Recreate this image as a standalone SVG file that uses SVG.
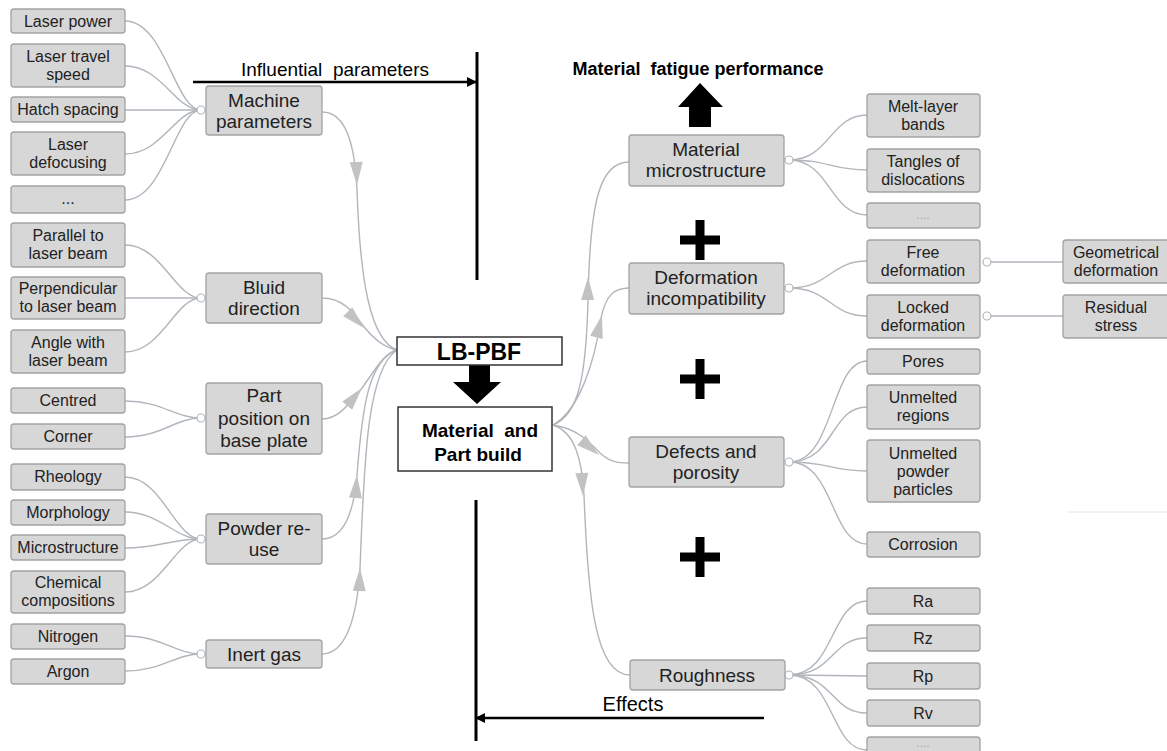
<svg xmlns="http://www.w3.org/2000/svg" width="1167" height="751" viewBox="0 0 1167 751">
<style>
.b{fill:#d7d7d7;stroke:#a3a3a3;stroke-width:1.3}
.t{font-family:"Liberation Sans",Arial,sans-serif;font-size:16px;fill:#222;text-anchor:middle}
.p{font-family:"Liberation Sans",Arial,sans-serif;font-size:19px;fill:#222;text-anchor:middle}
.d{font-family:"Liberation Sans",Arial,sans-serif;font-size:12px;fill:#aaa;text-anchor:middle}
.c{fill:none;stroke:#b0b6bc;stroke-width:1.4}
.o{fill:#fff;stroke:#b0b6bc;stroke-width:1.2}
.k{font-family:"Liberation Sans",Arial,sans-serif;fill:#000}
</style>
<defs>
<path id="ah" d="M0,0 L-23,-6.5 L-23,6.5 Z" fill="#c2c2c2"/>
<marker id="bh" markerWidth="10" markerHeight="10" refX="9" refY="5" orient="auto" markerUnits="userSpaceOnUse"><path d="M0,0 L10,5 L0,10 Z" fill="#000"/></marker>
</defs>
<rect width="1167" height="751" fill="#fff"/>
<line x1="1067" y1="512" x2="1167" y2="512" stroke="#e6e6e6" stroke-width="1"/>

<g id="connectors">
<path class="c" d="M125,21 C165,21 175,110 201,110"/>
<path class="c" d="M125,66 C162,66 175,110 201,110"/>
<path class="c" d="M125,110 C160,110 170,110 201,110"/>
<path class="c" d="M125,154 C162,154 175,110 201,110"/>
<path class="c" d="M125,200 C165,200 175,110 201,110"/>
<path class="c" d="M125,245 C162,245 175,298 201,298"/>
<path class="c" d="M125,298 C160,298 170,298 201,298"/>
<path class="c" d="M125,352 C162,352 175,298 201,298"/>
<path class="c" d="M125,401 C162,401 175,418 201,418"/>
<path class="c" d="M125,437 C162,437 175,418 201,418"/>
<path class="c" d="M125,477 C162,477 175,539 201,539"/>
<path class="c" d="M125,512 C160,512 175,539 201,539"/>
<path class="c" d="M125,548 C160,548 170,539 201,539"/>
<path class="c" d="M125,592 C162,592 175,539 201,539"/>
<path class="c" d="M125,636 C162,636 175,654 201,654"/>
<path class="c" d="M125,671 C162,671 175,654 201,654"/>
<path class="c" d="M322,112 C348,112 355,150 357,190 C360,280 370,340 397,350"/>
<path class="c" d="M322,298 C345,298 355,315 365,328 C375,340 385,348 397,350"/>
<path class="c" d="M322,419 C340,419 352,400 362,388 C375,370 385,352 397,350"/>
<path class="c" d="M322,539 C345,539 354,510 357,475 C362,410 368,360 397,350"/>
<path class="c" d="M322,654 C345,654 357,620 360,568 C364,470 366,370 397,350"/>
<path class="c" d="M553,425 C578,415 586,380 588,300 C590,200 600,162 629,162"/>
<path class="c" d="M553,425 C580,410 595,360 601,318 C606,295 614,288 629,288"/>
<path class="c" d="M553,425 C575,428 588,440 600,453 C610,462 618,463 629,463"/>
<path class="c" d="M553,425 C575,432 582,460 584,495 C588,600 595,675 630,675"/>
<path class="c" d="M789,160 C830,160 830,115 867,115"/>
<path class="c" d="M789,160 C830,160 830,170 867,170"/>
<path class="c" d="M789,160 C830,160 830,215 867,215"/>
<path class="c" d="M789,288 C830,288 830,261 867,261"/>
<path class="c" d="M789,288 C830,288 830,316 867,316"/>
<path class="c" d="M789,462 C835,462 830,361 867,361"/>
<path class="c" d="M789,462 C835,462 830,407 867,407"/>
<path class="c" d="M789,462 C830,462 830,471 867,471"/>
<path class="c" d="M789,462 C835,462 830,544 867,544"/>
<path class="c" d="M789,675 C835,675 830,601 867,601"/>
<path class="c" d="M789,675 C835,675 830,638 867,638"/>
<path class="c" d="M789,675 C830,675 830,676 867,676"/>
<path class="c" d="M789,675 C835,675 830,713 867,713"/>
<path class="c" d="M789,675 C835,675 830,750 867,750"/>
<path class="c" d="M987,262 L1063,262"/>
<path class="c" d="M987,316 L1063,316"/>
<use href="#ah" transform="translate(357,185) rotate(88)"/>
<use href="#ah" transform="translate(364,328) rotate(45)"/>
<use href="#ah" transform="translate(362,388) rotate(-50)"/>
<use href="#ah" transform="translate(357,475) rotate(-86)"/>
<use href="#ah" transform="translate(360,568) rotate(-88)"/>
<use href="#ah" transform="translate(588,277) rotate(-89)"/>
<use href="#ah" transform="translate(602,315) rotate(-76)"/>
<use href="#ah" transform="translate(599,455) rotate(40)"/>
<use href="#ah" transform="translate(583,496) rotate(87)"/>
<circle class="o" cx="201" cy="110" r="4"/>
<circle class="o" cx="201" cy="298" r="4"/>
<circle class="o" cx="201" cy="418" r="4"/>
<circle class="o" cx="201" cy="539" r="4"/>
<circle class="o" cx="201" cy="654" r="4"/>
<circle class="o" cx="789" cy="160" r="4"/>
<circle class="o" cx="789" cy="288" r="4"/>
<circle class="o" cx="789" cy="462" r="4"/>
<circle class="o" cx="789" cy="675" r="4"/>
<circle class="o" cx="987" cy="262" r="4"/>
<circle class="o" cx="987" cy="316" r="4"/>
</g>

<g id="axes">
<line x1="193" y1="82" x2="476" y2="82" stroke="#000" stroke-width="2.5" marker-end="url(#bh)"/>
<line x1="477" y1="52" x2="477" y2="280" stroke="#000" stroke-width="3"/>
<text class="k" x="335" y="76" font-size="19" text-anchor="middle">Influential&#160; parameters</text>
<line x1="764" y1="718" x2="476" y2="718" stroke="#000" stroke-width="2.5" marker-end="url(#bh)"/>
<line x1="476" y1="500" x2="476" y2="741" stroke="#000" stroke-width="3"/>
<text class="k" x="633" y="711" font-size="20" text-anchor="middle">Effects</text>
<text class="k" x="698" y="75" font-size="18" font-weight="bold" text-anchor="middle">Material&#160; fatigue performance</text>
<polygon points="700,83 723,107 711,107 711,127 689,127 689,107 678,107" fill="#000"/>
<polygon points="469,365 490,365 490,382 501,382 477,404 453,382 469,382" fill="#000"/>
<path d="M680,240 H720 M700,220 V260" stroke="#000" stroke-width="9"/>
<path d="M680,379 H720 M700,359 V399" stroke="#000" stroke-width="9"/>
<path d="M680,557 H720 M700,537 V577" stroke="#000" stroke-width="9"/>
</g>

<g id="n-lbpbf"><rect x="397" y="337" width="165" height="28" fill="#fff" stroke="#333" stroke-width="1.5"/><text class="k" x="479" y="360" font-size="23" font-weight="bold" text-anchor="middle">LB-PBF</text></g>
<g id="n-build"><rect x="398" y="407" width="154" height="64" fill="#fff" stroke="#333" stroke-width="1.5"/><text class="k" x="480" y="437" font-size="19" font-weight="bold" text-anchor="middle">Material&#160; and</text><text class="k" x="478" y="461" font-size="19" font-weight="bold" text-anchor="middle">Part build</text></g>

<g id="n-laserpower"><rect class="b" x="11" y="9" width="114" height="24" rx="3"/><text class="t" x="68" y="26.5">Laser power</text></g>
<g id="n-travel"><rect class="b" x="11" y="44" width="114" height="43" rx="3"/><text class="t" x="68" y="62">Laser travel</text><text class="t" x="68" y="80">speed</text></g>
<g id="n-hatch"><rect class="b" x="11" y="97" width="114" height="25" rx="3"/><text class="t" x="68" y="115">Hatch spacing</text></g>
<g id="n-defocus"><rect class="b" x="11" y="132" width="114" height="43" rx="3"/><text class="t" x="68" y="150">Laser</text><text class="t" x="68" y="168">defocusing</text></g>
<g id="n-ldots"><rect class="b" x="11" y="186" width="114" height="27" rx="3"/><text class="t" x="68" y="204">...</text></g>
<g id="n-parallel"><rect class="b" x="11" y="223" width="114" height="44" rx="3"/><text class="t" x="68" y="241">Parallel to</text><text class="t" x="68" y="259">laser beam</text></g>
<g id="n-perp"><rect class="b" x="11" y="277" width="114" height="42" rx="3"/><text class="t" x="68" y="294">Perpendicular</text><text class="t" x="68" y="312">to laser beam</text></g>
<g id="n-angle"><rect class="b" x="11" y="330" width="114" height="43" rx="3"/><text class="t" x="68" y="348">Angle with</text><text class="t" x="68" y="366">laser beam</text></g>
<g id="n-centred"><rect class="b" x="11" y="388" width="114" height="25" rx="3"/><text class="t" x="68" y="406">Centred</text></g>
<g id="n-corner"><rect class="b" x="11" y="424" width="114" height="25" rx="3"/><text class="t" x="68" y="442">Corner</text></g>
<g id="n-rheology"><rect class="b" x="11" y="464" width="114" height="26" rx="3"/><text class="t" x="68" y="482">Rheology</text></g>
<g id="n-morphology"><rect class="b" x="11" y="500" width="114" height="25" rx="3"/><text class="t" x="68" y="518">Morphology</text></g>
<g id="n-microstructure"><rect class="b" x="11" y="535" width="114" height="25" rx="3"/><text class="t" x="68" y="553">Microstructure</text></g>
<g id="n-chemical"><rect class="b" x="11" y="571" width="114" height="42" rx="3"/><text class="t" x="68" y="588">Chemical</text><text class="t" x="68" y="606">compositions</text></g>
<g id="n-nitrogen"><rect class="b" x="11" y="624" width="114" height="25" rx="3"/><text class="t" x="68" y="642">Nitrogen</text></g>
<g id="n-argon"><rect class="b" x="11" y="659" width="114" height="25" rx="3"/><text class="t" x="68" y="677">Argon</text></g>

<g id="n-machine"><rect class="b" x="206" y="86" width="116" height="49" rx="3"/><text class="p" x="264" y="107">Machine</text><text class="p" x="264" y="128">parameters</text></g>
<g id="n-bluid"><rect class="b" x="206" y="273" width="116" height="50" rx="3"/><text class="p" x="264" y="294">Bluid</text><text class="p" x="264" y="315">direction</text></g>
<g id="n-partpos"><rect class="b" x="206" y="383" width="116" height="71" rx="3"/><text class="p" x="264" y="402">Part</text><text class="p" x="264" y="425">position on</text><text class="p" x="264" y="447">base plate</text></g>
<g id="n-powder"><rect class="b" x="206" y="514" width="116" height="50" rx="3"/><text class="p" x="264" y="535">Powder re-</text><text class="p" x="264" y="556">use</text></g>
<g id="n-inert"><rect class="b" x="206" y="640" width="116" height="28" rx="3"/><text class="p" x="264" y="661">Inert gas</text></g>

<g id="n-matmicro"><rect class="b" x="629" y="135" width="155" height="51" rx="3"/><text class="p" x="706" y="156">Material</text><text class="p" x="706" y="177">microstructure</text></g>
<g id="n-deform"><rect class="b" x="629" y="263" width="155" height="51" rx="3"/><text class="p" x="706" y="284">Deformation</text><text class="p" x="706" y="305">incompatibility</text></g>
<g id="n-defects"><rect class="b" x="629" y="437" width="155" height="50" rx="3"/><text class="p" x="706" y="458">Defects and</text><text class="p" x="706" y="479">porosity</text></g>
<g id="n-rough"><rect class="b" x="630" y="660" width="155" height="30" rx="3"/><text class="p" x="707" y="682">Roughness</text></g>

<g id="n-meltlayer"><rect class="b" x="867" y="94" width="113" height="43" rx="3"/><text class="t" x="923" y="112">Melt-layer</text><text class="t" x="923" y="130">bands</text></g>
<g id="n-tangles"><rect class="b" x="867" y="149" width="113" height="43" rx="3"/><text class="t" x="923" y="167">Tangles of</text><text class="t" x="923" y="185">dislocations</text></g>
<g id="n-rdots1"><rect class="b" x="867" y="203" width="113" height="25" rx="3"/><text class="d" x="923" y="219">....</text></g>
<g id="n-free"><rect class="b" x="867" y="240" width="113" height="43" rx="3"/><text class="t" x="923" y="258">Free</text><text class="t" x="923" y="276">deformation</text></g>
<g id="n-locked"><rect class="b" x="867" y="295" width="113" height="43" rx="3"/><text class="t" x="923" y="313">Locked</text><text class="t" x="923" y="331">deformation</text></g>
<g id="n-geom"><rect class="b" x="1063" y="240" width="112" height="43" rx="3"/><text class="t" x="1116" y="258">Geometrical</text><text class="t" x="1116" y="276">deformation</text></g>
<g id="n-residual"><rect class="b" x="1063" y="295" width="112" height="43" rx="3"/><text class="t" x="1116" y="313">Residual</text><text class="t" x="1116" y="331">stress</text></g>
<g id="n-pores"><rect class="b" x="867" y="349" width="113" height="25" rx="3"/><text class="t" x="923" y="367">Pores</text></g>
<g id="n-unmelted"><rect class="b" x="867" y="385" width="113" height="44" rx="3"/><text class="t" x="923" y="403">Unmelted</text><text class="t" x="923" y="421">regions</text></g>
<g id="n-unpowder"><rect class="b" x="867" y="440" width="113" height="62" rx="3"/><text class="t" x="923" y="458.5">Unmelted</text><text class="t" x="923" y="476.5">powder</text><text class="t" x="923" y="494.5">particles</text></g>
<g id="n-corrosion"><rect class="b" x="867" y="532" width="113" height="25" rx="3"/><text class="t" x="923" y="550">Corrosion</text></g>
<g id="n-ra"><rect class="b" x="867" y="588" width="113" height="26" rx="3"/><text class="t" x="923" y="606.5">Ra</text></g>
<g id="n-rz"><rect class="b" x="867" y="625" width="113" height="26" rx="3"/><text class="t" x="923" y="643.5">Rz</text></g>
<g id="n-rp"><rect class="b" x="867" y="663" width="113" height="26" rx="3"/><text class="t" x="923" y="681.5">Rp</text></g>
<g id="n-rv"><rect class="b" x="867" y="700" width="113" height="26" rx="3"/><text class="t" x="923" y="718.5">Rv</text></g>
<g id="n-rdots2"><rect class="b" x="867" y="737" width="113" height="26" rx="3"/><text class="d" x="923" y="747">....</text></g>
</svg>
